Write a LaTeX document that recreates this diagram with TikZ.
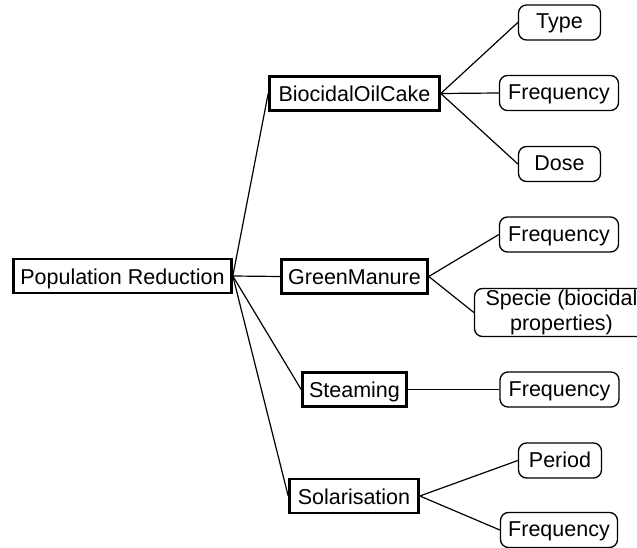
\documentclass[tikz,border=0pt]{standalone}
\usepackage{fontspec}
\setmainfont{Liberation Sans}
\begin{document}
\begin{tikzpicture}[x=1pt,y=-1pt,
  every node/.style={font=\fontsize{21.5}{25}\selectfont, inner sep=0pt, align=center},
  mainbox/.style={draw, line width=2.6pt, minimum height=34pt, text height=25pt, text depth=9pt},
  leafbox/.style={draw, line width=1.3pt, rounded corners=8pt, minimum height=35pt, text height=24pt, text depth=11pt},
  conn/.style={line width=1.2pt}]
\clip (0,0) rectangle (637,548);
\fill[white] (0,0) rectangle (637,548);
% main nodes
\node[mainbox, minimum width=218pt] (pr) at (122.5,276) {Population Reduction};
\node[mainbox, minimum width=170pt] (boc) at (354.5,93.5) {BiocidalOilCake};
\node[mainbox, minimum width=146pt] (gm) at (354.5,276.5) {GreenManure};
\node[mainbox, minimum width=104pt] (st) at (354.5,389.5) {Steaming};
\node[mainbox, minimum width=129pt] (so) at (354,496) {Solarisation};
% leaves
\node[leafbox, minimum width=82pt] (type) at (559.5,22.5) {Type};
\node[leafbox, minimum width=119pt] (f1) at (559,93) {Frequency};
\node[leafbox, minimum width=82pt] (dose) at (559.5,164) {Dose};
\node[leafbox, minimum width=119pt] (f2) at (559,234.5) {Frequency};
\node[leafbox, minimum width=174pt, minimum height=48pt, text height=42pt, text depth=6pt] (sp) at (561.5,312.5) {Specie (biocidal\\properties)};
\node[leafbox, minimum width=119pt] (f3) at (559.5,389.5) {Frequency};
\node[leafbox, minimum width=83pt] (per) at (560,460.5) {Period};
\node[leafbox, minimum width=117pt] (f4) at (559,530) {Frequency};
% connectors
\draw[conn] (pr.east) -- (boc.west);
\draw[conn] (pr.east) -- (gm.west);
\draw[conn] (pr.east) -- (st.west);
\draw[conn] (pr.east) -- (so.west);
\draw[conn] (boc.east) -- (type.west);
\draw[conn] (boc.east) -- (f1.west);
\draw[conn] (boc.east) -- (dose.west);
\draw[conn] (gm.east) -- (f2.west);
\draw[conn] (gm.east) -- (sp.west);
\draw[conn] (st.east) -- (f3.west);
\draw[conn] (so.east) -- (per.west);
\draw[conn] (so.east) -- (f4.west);
\end{tikzpicture}
\end{document}
